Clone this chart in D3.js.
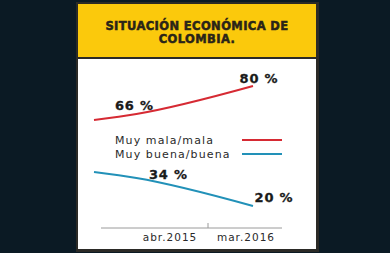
<!DOCTYPE html>
<html>
<head>
<meta charset="utf-8">
<script src="https://cdn.jsdelivr.net/npm/d3@7"></script>
<style>
  html, body { margin: 0; padding: 0; background: #0b1a24; }
  svg { display: block; }
</style>
</head>
<body>
<svg id="chart"></svg>
<script>
'use strict'

// months counted from ene.2015 = 0
const months = [-1, 3, 14];
const mala = [63, 66, 80];
const buena = [37, 34, 20];
const seriesNames = ['Muy mala/mala', 'Muy buena/buena'];
const tickLabels = ['abr.2015', 'mar.2016'];
const titleLines = ['SITUACIÓN ECONÓMICA DE', 'COLOMBIA.'];

const width = 390, height = 253;
const colors = { mala: '#d62a33', buena: '#2291b8' };

const svg = d3.select('#chart')
	.attr('width', width)
	.attr('height', height);

svg.append('rect')
	.attr('width', width).attr('height', height)
	.attr('fill', '#0b1a24');

// panel
svg.append('rect')
	.attr('x', 76).attr('y', 2)
	.attr('width', 243).attr('height', 250)
	.attr('fill', '#2b2a26');
svg.append('rect')
	.attr('x', 78).attr('y', 4)
	.attr('width', 238).attr('height', 53)
	.attr('fill', '#fbc90c');
svg.append('rect')
	.attr('x', 78).attr('y', 59)
	.attr('width', 238).attr('height', 190)
	.attr('fill', '#ffffff');

// title
svg.append('g').selectAll('text')
	.data(titleLines)
	.join('text')
	.attr('x', 197)
	.attr('y', (d, i) => 29.5 + i * 13)
	.attr('text-anchor', 'middle')
	.attr('font-family', 'DejaVu Sans, sans-serif')
	.attr('font-weight', 'bold')
	.attr('font-size', 11.5)
	.attr('letter-spacing', 0.4)
	.attr('fill', '#2a2418')
	.attr('stroke', '#2a2418')
	.attr('stroke-width', 0.5)
	.text(d => d);

const x = d3.scaleLinear().domain([-1, 14]).range([94, 253]);
const y = d3.scaleLinear().domain([0, 100]).range([246, 46]);

const line = d3.line()
	.x((d, i) => x(months[i]))
	.y(d => y(d))
	.curve(d3.curveMonotoneX);

svg.append('path')
	.datum(mala)
	.attr('d', line)
	.attr('fill', 'none')
	.attr('stroke', colors.mala)
	.attr('stroke-width', 2);

svg.append('path')
	.datum(buena)
	.attr('d', line)
	.attr('fill', 'none')
	.attr('stroke', colors.buena)
	.attr('stroke-width', 2);

// value labels
const labels = [
	{ m: months[1], v: mala[1], dx: -2, dy: -4 },
	{ m: months[2], v: mala[2], dx: 6, dy: -3 },
	{ m: months[1], v: buena[1], dx: 32, dy: 1 },
	{ m: months[2], v: buena[2], dx: 21, dy: -4 }
];
svg.append('g').selectAll('text')
	.data(labels)
	.join('text')
	.attr('x', d => x(d.m) + d.dx)
	.attr('y', d => y(d.v) + d.dy)
	.attr('text-anchor', 'middle')
	.attr('font-family', 'DejaVu Sans, sans-serif')
	.attr('font-weight', 'bold')
	.attr('font-size', 13)
	.attr('letter-spacing', 0.8)
	.attr('fill', '#1a1a1a')
	.attr('stroke', '#1a1a1a')
	.attr('stroke-width', 0.3)
	.text(d => d.v + ' %');

// legend
const legend = svg.append('g').selectAll('g')
	.data(seriesNames)
	.join('g')
	.attr('transform', (d, i) => `translate(0,${140 + i * 14})`);
legend.append('text')
	.attr('x', 115).attr('y', 3.5)
	.attr('font-family', 'DejaVu Sans, sans-serif')
	.attr('font-size', 11)
	.attr('letter-spacing', 1.1)
	.attr('fill', '#2a2a2a')
	.text(d => d);
legend.append('line')
	.attr('x1', 242).attr('x2', 282)
	.attr('stroke', (d, i) => i === 0 ? colors.mala : colors.buena)
	.attr('stroke-width', 2);

// x axis
const band = d3.scaleBand().domain(tickLabels).range([132, 284]);
const axisY = 228;
svg.append('line')
	.attr('x1', 101).attr('x2', 282)
	.attr('y1', axisY).attr('y2', axisY)
	.attr('stroke', '#9a9a9a').attr('stroke-width', 1);
svg.append('line')
	.attr('x1', band(tickLabels[1])).attr('x2', band(tickLabels[1]))
	.attr('y1', axisY - 5).attr('y2', axisY)
	.attr('stroke', '#9a9a9a').attr('stroke-width', 1);
svg.append('g').selectAll('text')
	.data(tickLabels)
	.join('text')
	.attr('x', d => band(d) + band.bandwidth() / 2)
	.attr('y', 241)
	.attr('text-anchor', 'middle')
	.attr('font-family', 'DejaVu Sans, sans-serif')
	.attr('font-size', 10.5)
	.attr('letter-spacing', 1)
	.attr('fill', '#2a2a2a')
	.text(d => d);
</script>
</body>
</html>
